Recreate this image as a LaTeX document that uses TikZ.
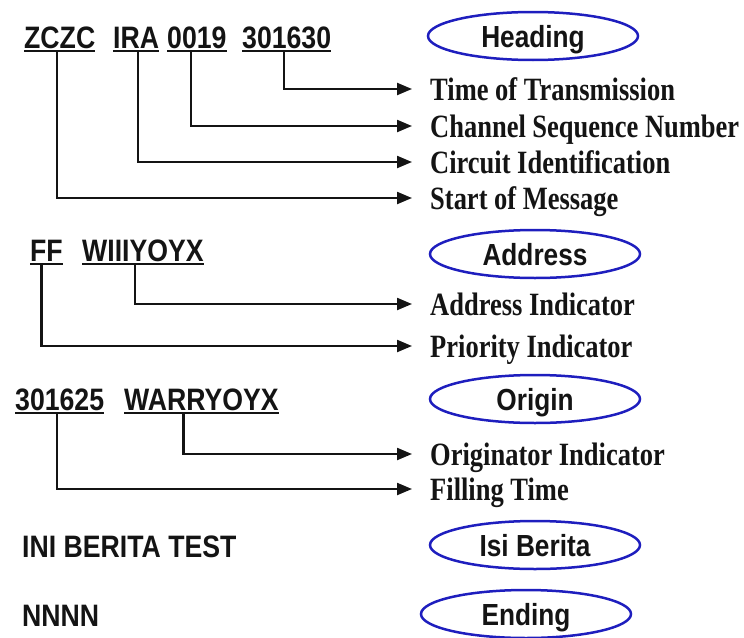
\documentclass[tikz,border=0pt]{standalone}
\usepackage{fontspec}
\usetikzlibrary{arrows.meta,shapes.geometric,calc}
\newfontfamily\codefont[FakeStretch=0.86]{Liberation Sans}
\newfontfamily\labfont[FakeStretch=0.815]{Liberation Serif}
\definecolor{ink}{RGB}{20,20,20}
\definecolor{ovalblue}{RGB}{30,30,190}
\tikzset{
 code/.style={anchor=base west, inner sep=0pt, font=\codefont\bfseries\fontsize{31}{36}\selectfont, text=ink},
 lab/.style={anchor=west, inner xsep=18pt, inner ysep=0pt, text height=22pt, text depth=0pt, font=\labfont\bfseries\fontsize{32.5}{36}\selectfont, text=ink},
 oval/.style={ellipse, draw=ovalblue, line width=2.5pt, minimum width=210pt, minimum height=48pt, inner sep=0pt, text height=22pt, text depth=0pt, font=\codefont\bfseries\fontsize{30.5}{36}\selectfont, text=ink},
 conn/.style={draw=ink, line width=2.2pt, -{Triangle[length=15pt,width=12pt]}},
 uline/.style={draw=ink, line width=2pt},
}
\begin{document}
\begin{tikzpicture}[x=1pt,y=-1pt]
\useasboundingbox (0,0) rectangle (744,637);
% heading
\node[code] (zczc) at (24,48) {ZCZC};
\node[code] (ira) at (113,48) {IRA};
\node[code] (seq) at (167,48) {0019};
\node[code] (tt) at (242,48) {301630};
\node[oval] (heading) at (533,36) {Heading};
\node[lab] (tot) at (412,89) {Time of Transmission};
\node[lab] (csn) at (412,126) {Channel Sequence Number};
\node[lab] (cid) at (412,162) {Circuit Identification};
\node[lab] (som) at (412,198) {Start of Message};
\foreach \n in {zczc,ira,seq,tt}
  \draw[uline] ($(\n.base west)+(0,3)$) -- ($(\n.base east)+(0,3)$);
\draw[conn] ($(tt.base)+(-3,3)$) |- (tot.west);
\draw[conn] ($(seq.base)+(-6,3)$) |- (csn.west);
\draw[conn] ($(ira.base)+(2,3)$) |- (cid.west);
\draw[conn] ($(zczc.base)+(-3,3)$) |- (som.west);
% address
\node[code] (ff) at (30,261) {FF};
\node[code] (wiii) at (82,261) {WIIIYOYX};
\node[oval] (address) at (535,254) {Address};
\node[lab] (ai) at (412,304) {Address Indicator};
\node[lab] (pi) at (412,346) {Priority Indicator};
\foreach \n in {ff,wiii}
  \draw[uline] ($(\n.base west)+(0,3)$) -- ($(\n.base east)+(0,3)$);
\draw[conn] ($(wiii.base)+(-8,3)$) |- (ai.west);
\draw[conn] ($(ff.base)+(-5,3)$) |- (pi.west);
% origin
\node[code] (ft) at (15,410) {301625};
\node[code] (warr) at (124,410) {WARRYOYX};
\node[oval] (origin) at (535,399) {Origin};
\node[lab] (oi) at (412,454) {Originator Indicator};
\node[lab] (fti) at (412,489) {Filling Time};
\foreach \n in {ft,warr}
  \draw[uline] ($(\n.base west)+(0,3)$) -- ($(\n.base east)+(0,3)$);
\draw[conn] ($(warr.base)+(-18,3)$) |- (oi.west);
\draw[conn] ($(ft.base)+(-3,3)$) |- (fti.west);
% body and ending
\node[code] (body) at (22,557) {INI BERITA TEST};
\node[oval] (isi) at (535,545) {Isi Berita};
\node[code] (nnnn) at (22,626) {NNNN};
\node[oval] (ending) at (526,614) {Ending};
\end{tikzpicture}
\end{document}
